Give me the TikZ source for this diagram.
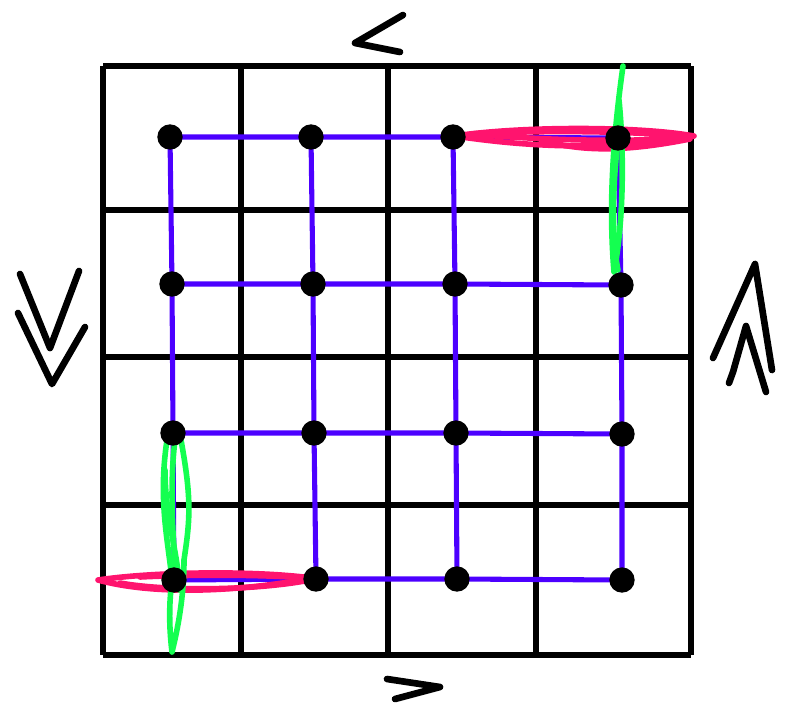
\documentclass[tikz,border=0pt]{standalone}
\usetikzlibrary{calc}
\definecolor{edgeblue}{RGB}{76,0,255}
\definecolor{hpink}{RGB}{255,20,110}
\definecolor{hgreen}{RGB}{20,255,80}
\begin{document}
\begin{tikzpicture}[x=0.75pt,y=-0.75pt,
  gridline/.style={line width=4.4pt,black},
  edge/.style={line width=3.8pt,edgeblue},
  dot/.style={circle,fill=black,inner sep=0pt,minimum size=19pt},
  pinkstroke/.style={line width=4.2pt,hpink,line join=round,line cap=round},
  greenstroke/.style={line width=4.2pt,hgreen,line join=round,line cap=round},
  chevron/.style={line width=5pt,black,line cap=round,line join=round}]
\useasboundingbox (0,0) rectangle (795,715);
% grid
\foreach \x in {103,241,388,536,691} \draw[gridline] (\x,66) -- (\x,655);
\foreach \y in {66,210,357,505,655} \draw[gridline] (103,\y) -- (691,\y);
% nodes
\coordinate (p11) at (170,137); \coordinate (p12) at (311,137); \coordinate (p13) at (453,137); \coordinate (p14) at (618,138);
\coordinate (p21) at (172,284); \coordinate (p22) at (313,284); \coordinate (p23) at (455,284); \coordinate (p24) at (621,285);
\coordinate (p31) at (173,433); \coordinate (p32) at (314,433); \coordinate (p33) at (456,433); \coordinate (p34) at (622,434);
\coordinate (p41) at (174,580); \coordinate (p42) at (316,579); \coordinate (p43) at (457,579); \coordinate (p44) at (622,580);
% blue edges
\foreach \r in {1,2,3,4} {
  \draw[edge] (p\r1) -- (p\r2) -- (p\r3) -- (p\r4);
}
\foreach \c in {1,2,3,4} {
  \draw[edge] (p1\c) -- (p2\c) -- (p3\c) -- (p4\c);
}
% pink top right
\draw[pinkstroke] (455,136) .. controls (520,126) and (640,126) .. (694,136) .. controls (640,146) and (560,152) .. (455,136);
\draw[pinkstroke] (470,134) .. controls (540,130) and (640,131) .. (690,137) .. controls (630,143) and (540,140) .. (470,134);
\draw[pinkstroke] (540,139) .. controls (580,153) and (630,151) .. (690,139);
% green top right
\draw[greenstroke] (623,66) .. controls (614,130) and (608,200) .. (614,272) .. controls (624,220) and (624,150) .. (619,100);
\draw[greenstroke] (618,140) .. controls (612,190) and (612,240) .. (618,270);
% pink bottom left
\draw[pinkstroke] (98,580) .. controls (150,572) and (250,570) .. (312,578) .. controls (250,590) and (160,597) .. (98,580);
\draw[pinkstroke] (120,583) .. controls (170,592) and (260,590) .. (310,580);
\draw[pinkstroke] (140,577) .. controls (200,574) and (270,575) .. (305,578);
% green bottom left
\draw[greenstroke] (167,440) .. controls (158,500) and (168,540) .. (172,580) .. controls (168,610) and (170,635) .. (172,652) .. controls (180,620) and (184,590) .. (184,560) .. controls (190,520) and (192,500) .. (181,440);
\draw[greenstroke] (175,440) .. controls (170,480) and (172,530) .. (176,575);
\draw[greenstroke] (165,470) .. controls (165,520) and (180,560) .. (179,590);
% dots
\foreach \r in {1,2,3,4} \foreach \c in {1,2,3,4} \node[dot] (d\r\c) at (p\r\c) {};
% direction marks
\draw[chevron] (403,15) -- (355,43) -- (400,52);
\draw[chevron] (387,679) -- (440,687) -- (395,699);
\draw[chevron] (20,274) -- (50,348) -- (79,271);
\draw[chevron] (18,313) -- (52,384) -- (85,327);
\draw[chevron] (713,358) -- (755,264) -- (772,370);
\draw[chevron] (729,383) -- (733,372) -- (746,326) -- (766,392);
\end{tikzpicture}
\end{document}
